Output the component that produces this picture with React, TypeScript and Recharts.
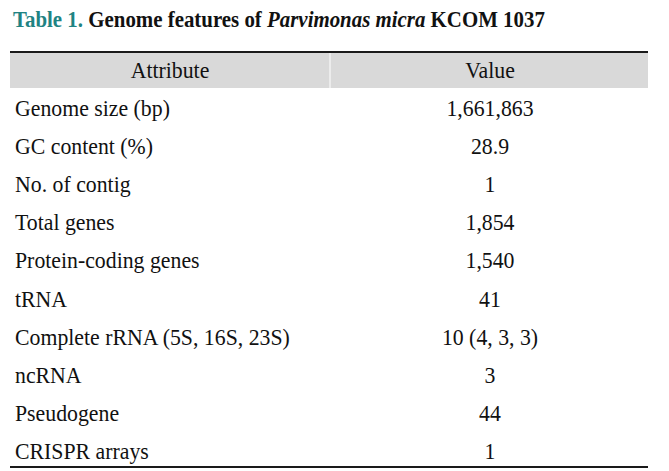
import React from "react";
import { ComposedChart, XAxis, YAxis, Bar, Customized } from "recharts";

const attributes = [
  "Genome size (bp)",
  "GC content (%)",
  "No. of contig",
  "Total genes",
  "Protein-coding genes",
  "tRNA",
  "Complete rRNA (5S, 16S, 23S)",
  "ncRNA",
  "Pseudogene",
  "CRISPR arrays",
];
const values = [
  "1,661,863",
  "28.9",
  "1",
  "1,854",
  "1,540",
  "41",
  "10 (4, 3, 3)",
  "3",
  "44",
  "1",
];
const headers = ["Attribute", "Value"];
const titleLabel = "Table 1.";
const titleParts = ["Genome features of ", "Parvimonas micra", " KCOM 1037"];

const data = attributes.map((a, i) => ({ attribute: a, value: values[i] }));

const FONT = "'Liberation Serif', 'Times New Roman', serif";
const TEXT_COLOR = "#111111";
const BODY_SIZE = 21.8;
const STRETCH = 1.1;

const Cell = ({ x, y, anchor, children }: any) => (
  <text
    transform={`translate(${x}, ${y}) scale(1, ${STRETCH})`}
    x={0}
    y={0}
    textAnchor={anchor}
    fontFamily={FONT}
    fontSize={BODY_SIZE}
    fill={TEXT_COLOR}
  >
    {children}
  </text>
);

const LeftTick = (props: any) => {
  const { y, payload } = props;
  return <Cell x={15} y={y + 11} anchor="start">{payload.value}</Cell>;
};

const RightTick = (props: any) => {
  const { y, payload } = props;
  return <Cell x={490} y={y + 11} anchor="middle">{payload.value}</Cell>;
};

const Header = () => (
  <g>
    <text
      transform={`translate(13, 27) scale(1, 1.06)`}
      x={0}
      y={0}
      fontFamily={FONT}
      fontSize={20.9}
      fontWeight="bold"
      fill={TEXT_COLOR}
    >
      <tspan fill="#1f8383">{titleLabel} </tspan>
      <tspan>{titleParts[0]}</tspan>
      <tspan fontStyle="italic">{titleParts[1]}</tspan>
      <tspan>{titleParts[2]}</tspan>
    </text>
    <rect x={10} y={52} width={638} height={36} fill="#d9d9d9" />
    <line x1={10} x2={648} y1={52} y2={52} stroke="#1a1a1a" strokeWidth={2} />
    <line x1={330} x2={330} y1={53} y2={88} stroke="#ffffff" strokeWidth={1} />
    <Cell x={170} y={78} anchor="middle">{headers[0]}</Cell>
    <Cell x={490} y={78} anchor="middle">{headers[1]}</Cell>
  </g>
);

export default function App() {
  return (
    <div style={{ position: "absolute", left: 0, top: 0, width: 669, height: 471, background: "#fff" }}>
      <ComposedChart
        width={669}
        height={471}
        data={data}
        layout="vertical"
        margin={{ top: 86, right: 20, bottom: 3, left: 9 }}
      >
        <XAxis
          type="number"
          domain={[0, 1]}
          height={1}
          tick={false}
          tickLine={false}
          axisLine={{ stroke: "#1a1a1a", strokeWidth: 2 }}
        />
        <YAxis
          yAxisId="left"
          type="category"
          dataKey="attribute"
          width={1}
          axisLine={false}
          tickLine={false}
          tick={LeftTick}
          interval={0}
        />
        <YAxis
          yAxisId="right"
          orientation="right"
          type="category"
          dataKey="value"
          width={1}
          axisLine={false}
          tickLine={false}
          tick={RightTick}
          interval={0}
        />
        <Bar yAxisId="left" dataKey="none" isAnimationActive={false} />
        <Bar yAxisId="right" dataKey="none" isAnimationActive={false} />
        <Customized component={Header} />
      </ComposedChart>
    </div>
  );
}
